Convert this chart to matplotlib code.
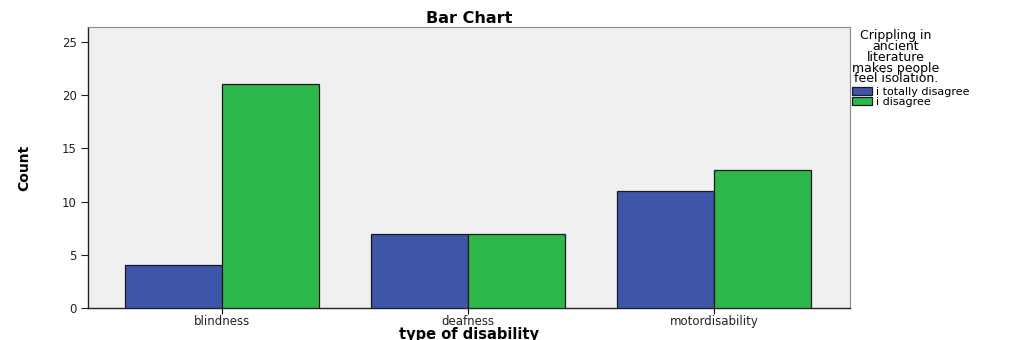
import matplotlib.pyplot as plt
import numpy as np

plt.rcParams['font.family'] = ['DejaVu Sans']

# data
categories = ["blindness", "deafness", "motordisability"]
totally_disagree = [4, 7, 11]
disagree = [21, 7, 13]
series_names = ["i totally disagree", "i disagree"]
legend_title = "Crippling in\nancient\nliterature\nmakes people\nfeel isolation."

fig = plt.figure(figsize=(10.2, 3.4), dpi=100)
ax = fig.add_axes([0.0863, 0.094, 0.7470, 0.8266])
ax.set_facecolor('#f0f0f0')

x = np.arange(len(categories))
w = 0.395
ax.bar(x - w/2, totally_disagree, w, color='#3d56aa', edgecolor='#1a1a1a',
       linewidth=0.9, label=series_names[0], zorder=3)
ax.bar(x + w/2, disagree, w, color='#2db84b', edgecolor='#1a1a1a',
       linewidth=0.9, label=series_names[1], zorder=3)

ax.set_xlim(-0.545, 2.553)
ax.set_ylim(0, 26.4)
ax.set_yticks([0, 5, 10, 15, 20, 25])
ax.set_xticks(x)
ax.set_xticklabels(categories, fontsize=8.5, color='#222222')
ax.tick_params(axis='y', labelsize=8.5, length=5, width=0.8, colors='#222222', pad=3)
ax.tick_params(axis='x', length=4, width=0.8, pad=1)
for s in ['top', 'right']:
    ax.spines[s].set_color('#888888')
    ax.spines[s].set_linewidth(0.8)
for s in ['left', 'bottom']:
    ax.spines[s].set_color('#222222')
    ax.spines[s].set_linewidth(1.0)

ax.set_title("Bar Chart", fontsize=11.5, fontweight='bold', pad=3)
ax.set_xlabel("type of disability", fontsize=10.5, fontweight='bold')
ax.xaxis.set_label_coords(0.5, -0.066)
ax.set_ylabel("Count", fontsize=10, fontweight='bold', labelpad=22)

leg = ax.legend(title=legend_title, loc='upper left', bbox_to_anchor=(1.0, 1.0),
                frameon=False, fontsize=8, title_fontsize=9,
                handlelength=1.8, handleheight=0.7, handletextpad=0.3,
                labelspacing=0.0, borderaxespad=0.1, borderpad=0.1)
leg.get_title().set_ha('center')
leg.get_title().set_linespacing(0.78)
leg._legend_box.align = 'left'
leg._legend_box.sep = 1

fig.savefig("out.png", dpi=100)
